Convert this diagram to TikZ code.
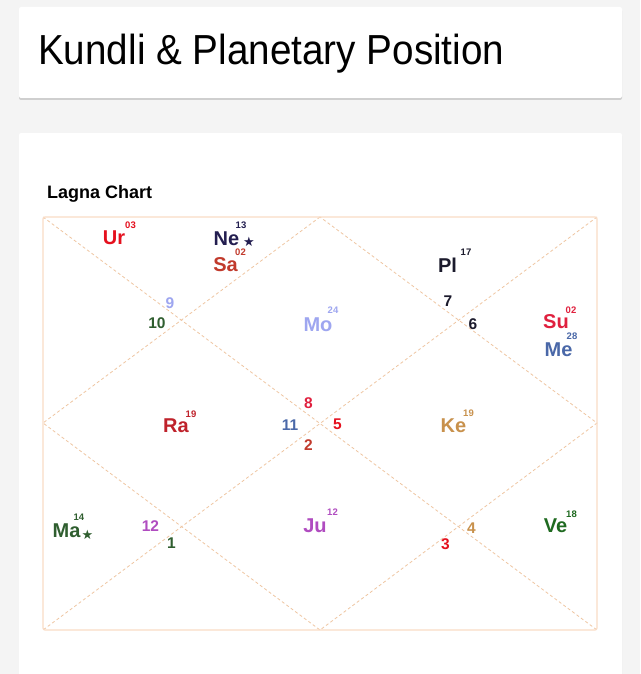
\documentclass[tikz,border=0pt]{standalone}
\usepackage{fontspec}
\setmainfont{Liberation Sans}
\newfontfamily\symbfont{DejaVu Sans}
\definecolor{pagebg}{HTML}{F4F4F4}
\definecolor{cardshadow}{HTML}{CFCFCF}
\definecolor{chartline}{HTML}{F9DCC6}
\definecolor{chartdash}{HTML}{EFC6A2}
\definecolor{uranus}{HTML}{E5101E}
\definecolor{neptune}{HTML}{231E50}
\definecolor{saturn}{HTML}{C13A2C}
\definecolor{pluto}{HTML}{1B1A2C}
\definecolor{moon}{HTML}{9EA6F0}
\definecolor{sun}{HTML}{E0203E}
\definecolor{mercury}{HTML}{4A68A8}
\definecolor{rahu}{HTML}{BF222B}
\definecolor{ketu}{HTML}{C8914C}
\definecolor{mars}{HTML}{2F5E2F}
\definecolor{jupiter}{HTML}{B04CC0}
\definecolor{venus}{HTML}{1F6A20}

\begin{document}
\begin{tikzpicture}[x=1pt, y=-1pt,
    planet/.style={inner sep=0pt, font=\bfseries\fontsize{20}{20}\selectfont},
    degree/.style={inner sep=0pt, font=\bfseries\fontsize{9.5}{9.5}\selectfont},
    house/.style={inner sep=0pt, font=\bfseries\fontsize{15.5}{15.5}\selectfont},
    divider/.style={chartdash, line width=0.8pt, dash pattern=on 3pt off 2.5pt}]

    \useasboundingbox (0,0) rectangle (640,674);
    \fill[pagebg] (0,0) rectangle (640,674);

    % title card
    \fill[cardshadow, rounded corners=2pt] (19,9) rectangle (622,100);
    \fill[white, rounded corners=2pt] (19,7) rectangle (622,98);
    \node[anchor=base west, inner sep=0pt, font=\fontsize{42}{42}\selectfont] (title) at (38,65)
        {\scalebox{.92}[1]{Kundli \& Planetary Position}};

    % chart card
    \fill[cardshadow!60, rounded corners=2pt] (19,134) rectangle (622,680);
    \fill[white, rounded corners=2pt] (19,133) rectangle (622,680);
    \node[anchor=base west, inner sep=0pt, font=\bfseries\fontsize{18}{18}\selectfont] (chart) at (47,198) {Lagna Chart};

    \coordinate (tl) at (43,217);  \coordinate (tm) at (320,217);  \coordinate (tr) at (597,217);
    \coordinate (lm) at (43,423);  \coordinate (rm) at (597,423);
    \coordinate (bl) at (43,630);  \coordinate (bm) at (320,630);  \coordinate (br) at (597,630);

    \draw[divider] (tl) -- (br) (tr) -- (bl);
    \draw[divider] (tm) -- (lm) -- (bm) -- (rm) -- cycle;
    \draw[chartline, line width=1.2pt, rounded corners=2pt] (tl) rectangle (br);

    % house numbers
    \foreach \n/\x/\y/\c in {1/171.5/543.5/mars, 2/308.5/445/saturn, 3/445.5/544.5/uranus,
                             4/471.5/528/ketu, 5/337.5/424.5/uranus, 6/473/324/pluto,
                             7/448/301/pluto, 8/308.5/403.5/sun, 9/170/303/moon,
                             10/157/323/mars, 11/290/425/mercury, 12/150.5/526.5/jupiter}
        \node[house, text=\c] (h\n) at (\x,\y) {\n};

    % planets and degrees
    \foreach \p/\t/\x/\y/\d/\dx/\dy/\c in {ur/Ur/114/237.5/03/130.5/225.5/uranus,
                                          ne/Ne/226.5/238.5/13/241/225.5/neptune,
                                          sa/Sa/225.5/264.5/02/240.5/252/saturn,
                                          pl/Pl/447.5/265/17/466/252/pluto,
                                          mo/Mo/318/325/24/333/310.5/moon,
                                          su/Su/556/322/02/571/310.5/sun,
                                          me/Me/558.5/349.5/28/572/336/mercury,
                                          ra/Ra/176/425.5/19/191/414/rahu,
                                          ke/Ke/453.5/425.5/19/468.5/413.5/ketu,
                                          ma/Ma/66.5/530.5/14/79/517.5/mars,
                                          ju/Ju/315/526/12/332.5/512.5/jupiter,
                                          ve/Ve/555.5/525.5/18/571.5/514/venus}{
        \node[planet, text=\c] (\p) at (\x,\y) {\t};
        \node[degree, text=\c] (\p-deg) at (\dx,\dy) {\d};
    }
    \node[inner sep=0pt, text=neptune, font=\symbfont\fontsize{13}{13}\selectfont] (ne-star) at (249,242) {★};
    \node[inner sep=0pt, text=mars, font=\symbfont\fontsize{13}{13}\selectfont] (ma-star) at (87.5,535) {★};

\end{tikzpicture}
\end{document}
